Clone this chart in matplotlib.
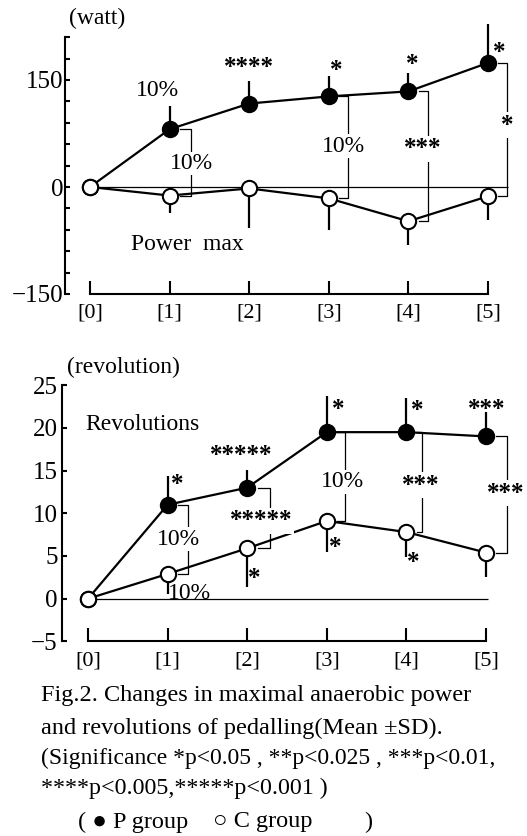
import numpy as np
import matplotlib
matplotlib.use('Agg')
import matplotlib.pyplot as plt

plt.rcParams['font.family'] = ['Liberation Serif', 'DejaVu Sans']

# sessions on the x axis
sessions = ['[0]', '[1]', '[2]', '[3]', '[4]', '[5]']

# power max (watt), change from session 0
power_p = [0, 81, 117, 127, 134, 174]
power_p_sd = [0, 32, 32, 29, 26, 54]
power_c = [0, -12, -2, -16, -48, -13]
power_c_sd = [0, 24, 55, 44, 33, 33]

# revolutions, change from session 0
rev_p = [0, 11, 13, 19.5, 19.5, 19]
rev_p_sd = [0, 3.4, 2.1, 4.2, 4.0, 2.9]
rev_c = [0, 2.9, 5.9, 9.1, 7.8, 5.4]
rev_c_sd = [0, 2.4, 4.5, 3.6, 2.9, 2.9]

# significance labels (x, y, text)
power_marks = [(0.85, 135, '10%'), (2.0, 171, '****'), (3.09, 167, '*'),
               (4.05, 175, '*'), (5.14, 192, '*')]
rev_marks = [(1.12, 13.7, '*'), (1.92, 17.1, '*****'), (3.14, 22.4, '*'),
             (4.14, 22.3, '*'), (5.01, 22.5, '***'),
             (2.09, 2.6, '*'), (3.10, 6.3, '*'), (4.09, 4.5, '*')]
rev_low_label = (1.28, 0.0, '10%')

# between-group brackets (session, bracket x, label, label x, label y)
power_brackets = [(1, 1.27, '10%', 1.28, 33), (3, 3.24, '10%', 3.18, 57),
                  (4, 4.25, '***', 4.18, 57), (5, 5.24, '*', 5.24, 90)]
rev_brackets = [(1, 1.25, '10%', 1.14, 6.95), (2, 2.29, '*****', 2.18, 9.4),
                (3, 3.23, '10%', 3.20, 13.7), (4, 4.20, '***', 4.18, 13.6),
                (5, 5.26, '***', 5.25, 12.65)]

FS = 17
fig = plt.figure(figsize=(5.27, 8.36), dpi=100)


def style_axes(ax, ybounds):
    ax.spines['top'].set_visible(False)
    ax.spines['right'].set_visible(False)
    ax.spines['left'].set_linewidth(1.5)
    ax.spines['bottom'].set_linewidth(1.5)
    ax.spines['left'].set_bounds(*ybounds)
    ax.spines['bottom'].set_bounds(0, 5)
    ax.set_xticks(range(len(sessions)))
    ax.set_xticklabels(sessions, fontsize=16)
    ax.tick_params(axis='x', direction='in', length=9.5, width=1.5, pad=7)
    ax.tick_params(axis='y', which='both', direction='in', length=3.5,
                   width=1.5, labelsize=18)
    ax.patch.set_visible(False)


def draw_groups(ax, p, psd, c, csd):
    x = np.arange(len(sessions))
    ax.errorbar(x, p, yerr=[np.zeros(len(p)), psd], fmt='none',
                ecolor='k', elinewidth=1.6, capsize=0, zorder=2)
    ax.errorbar(x, c, yerr=[csd, np.zeros(len(c))], fmt='none',
                ecolor='k', elinewidth=1.6, capsize=0, zorder=2)
    ax.plot(x, p, '-o', color='k', lw=1.6, ms=11.5, mfc='k', mec='k', zorder=4)
    ax.plot(x, c, '-o', color='k', lw=1.6, ms=11, mfc='white',
            mec='k', mew=1.5, zorder=4)


def star_text(ax, x, y, s, **kw):
    if '%' in s:
        ax.text(x, y, s, ha='center', va='center', fontsize=FS, **kw)
    else:
        ax.text(x, y, s, ha='center', va='center_baseline', fontsize=18,
                fontweight='bold', **kw)


def draw_brackets(ax, brackets, p, c):
    for i, bx, lab, lx, ly in brackets:
        ax.plot([i + 0.13, bx, bx, i + 0.13], [p[i], p[i], c[i], c[i]],
                color='k', lw=0.9, zorder=3)
        star_text(ax, lx, ly, lab, zorder=5,
                  bbox=dict(facecolor='white', edgecolor='none', pad=1))


# ---- top panel: power max ----
ax1 = fig.add_axes([65 / 527, (836 - 294) / 836, (527 - 65) / 527,
                    (294 - 15.8) / 836])
ax1.set_xlim(-0.314, 5.49)
ax1.set_ylim(-150, 240)
style_axes(ax1, (-150, 210))
ax1.set_yticks([-150, 0, 150])
ax1.set_yticks(np.arange(-150, 211, 30), minor=True)
ax1.tick_params(axis='y', pad=1)
ax1.hlines(0, 0, 5.25, color='k', lw=0.9, zorder=1)
draw_groups(ax1, power_p, power_p_sd, power_c, power_c_sd)
draw_brackets(ax1, power_brackets, power_p, power_c)
for x, y, s in power_marks:
    star_text(ax1, x, y, s)
ax1.text(1.22, -81, 'Power  max', ha='center', va='center', fontsize=FS)
fig.text(97 / 527, 1 - 18 / 836, '(watt)', ha='center', va='center',
         fontsize=FS)

# ---- bottom panel: revolutions ----
ax2 = fig.add_axes([62 / 527, (836 - 641.4) / 836, (527 - 62) / 527,
                    (641.4 - 368.1) / 836])
ax2.set_xlim(-0.327, 5.515)
ax2.set_ylim(-5, 27)
style_axes(ax2, (-5, 25))
ax2.set_yticks(np.arange(-5, 26, 5))
ax2.tick_params(axis='y', pad=3)
ax2.hlines(0, 0, 5.03, color='k', lw=0.9, zorder=1)
draw_groups(ax2, rev_p, rev_p_sd, rev_c, rev_c_sd)
draw_brackets(ax2, rev_brackets, rev_p, rev_c)
for x, y, s in rev_marks:
    star_text(ax2, x, y, s)
ax2.text(rev_low_label[0], rev_low_label[1], rev_low_label[2], ha='center',
         va='baseline', fontsize=FS, zorder=0)
ax2.text(0.69, 20.4, 'Revolutions', ha='center', va='center', fontsize=FS)
fig.text(123 / 527, 1 - 367 / 836, '(revolution)', ha='center',
         va='center', fontsize=FS)

# ---- caption ----
caption = ['Fig.2. Changes in maximal anaerobic power',
           'and revolutions of pedalling(Mean \u00b1SD).',
           '(Significance *p<0.05 , **p<0.025 , ***p<0.01,',
           '****p<0.005,*****p<0.001 )']
cap_y = [695, 728, 758, 788]
cap_fs = [17.5, 17.5, 17, 17.3]
for line, yy, fs in zip(caption, cap_y, cap_fs):
    fig.text(41 / 527, 1 - yy / 836, line, ha='left', va='center',
             fontsize=fs)
fig.text(78 / 527, 1 - 822 / 836, '( \u25cf P group', ha='left',
         va='center', fontsize=17.5)
fig.text(213 / 527, 1 - 822 / 836, '\u25cb C group', ha='left',
         va='center', fontsize=17.5)
fig.text(372 / 527, 1 - 822 / 836, ')', ha='right', va='center',
         fontsize=17.5)

fig.savefig('out.png', dpi=100)
